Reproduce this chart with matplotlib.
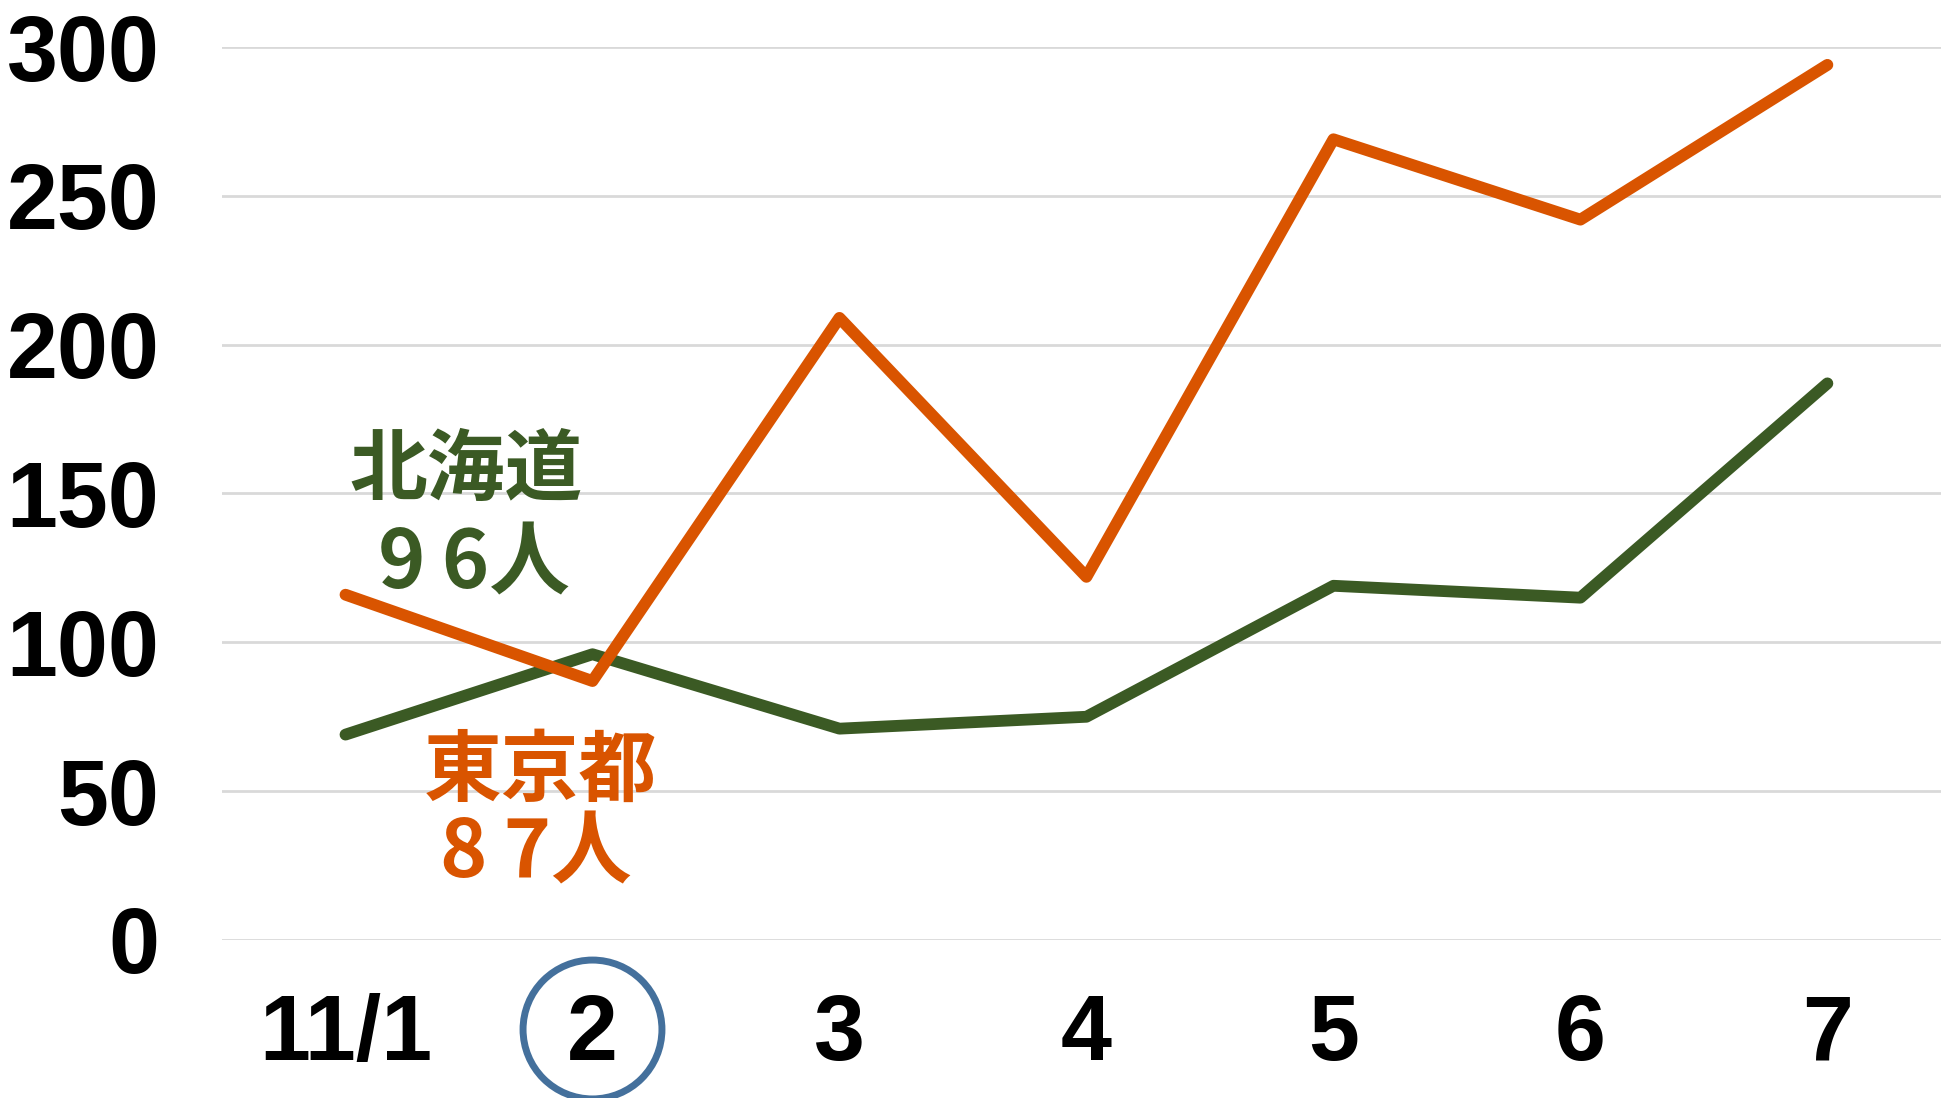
import matplotlib
matplotlib.use('Agg')
import matplotlib.pyplot as plt

# data
dates = ['11/1', '2', '3', '4', '5', '6', '7']
tokyo = [116, 87, 209, 122, 269, 242, 294]
hokkaido = [69, 96, 71, 75, 119, 115, 187]
yticks = [0, 50, 100, 150, 200, 250, 300]

ORANGE = '#d95400'
GREEN = '#3b5a24'
CIRCLE = '#44709c'

fig = plt.figure(figsize=(19.41, 10.98), dpi=100, facecolor='white')
ax = fig.add_axes([222 / 1941, 1 - 940 / 1098, 1 - 222 / 1941, (940 - 47) / 1098])
ax.set_facecolor('white')

x = list(range(len(dates)))
ax.plot(x, hokkaido, color=GREEN, linewidth=8.5, solid_capstyle='round',
        solid_joinstyle='round', clip_on=False, zorder=3)
ax.plot(x, tokyo, color=ORANGE, linewidth=8.5, solid_capstyle='round',
        solid_joinstyle='round', clip_on=False, zorder=4)

ax.set_ylim(0, 300)
ax.set_xlim(-0.5, 6.46)
ax.set_yticks(yticks)
ax.set_yticklabels([str(v) for v in yticks], fontsize=66, fontweight='bold',
                   family='Liberation Sans')
ax.set_xticks(x)
ax.set_xticklabels(dates, fontsize=66, fontweight='bold', family='Liberation Sans')
ax.tick_params(axis='y', length=0, pad=45)
ax.tick_params(axis='x', length=0, pad=38)
ax.grid(axis='y', color='#d9d9d9', linewidth=2)
ax.set_axisbelow(True)
for s in ax.spines.values():
    s.set_visible(False)

# circle around "2"
ax.plot([1], [-0.0997], marker='o', markersize=100, markerfacecolor='none',
        markeredgecolor=CIRCLE, markeredgewidth=5, clip_on=False,
        transform=ax.get_xaxis_transform())

jp = ['Noto Sans CJK JP', 'DejaVu Sans']
ax.text(0.49, 157.5, '北海道', color=GREEN, fontsize=56, fontweight='bold',
        family=jp, ha='center', va='center')
ax.text(0.52, 126, '9\u20096人', color=GREEN, fontsize=58, fontweight='bold',
        family=jp, ha='center', va='center')
ax.text(0.79, 56.5, '東京都', color=ORANGE, fontsize=56, fontweight='bold',
        family=jp, ha='center', va='center')
ax.text(0.77, 29, '8\u20097人', color=ORANGE, fontsize=58, fontweight='bold',
        family=jp, ha='center', va='center')

plt.savefig('out.png', dpi=100, facecolor='white')
plt.close()
